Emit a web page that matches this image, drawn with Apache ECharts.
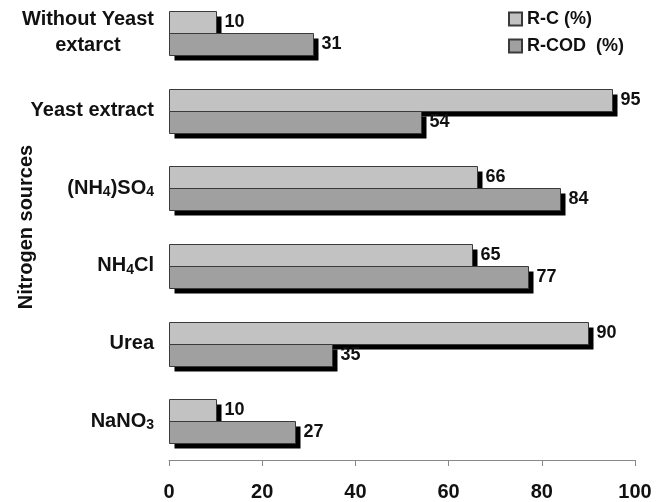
<!DOCTYPE html>
<html>
<head>
<meta charset="utf-8">
<script src="https://cdn.jsdelivr.net/npm/echarts@6/dist/echarts.min.js"></script>
<style>html,body{margin:0;padding:0;background:#fff}#c{width:668px;height:502px}</style>
</head>
<body>
<div id="c"></div>
<script>
const categories = ['Without Yeast extarct', 'Yeast extract', '(NH4)SO4', 'NH4Cl', 'Urea', 'NaNO3'];
const seriesNames = ['R-C (%)', 'R-COD  (%)'];
const rC = [10, 95, 66, 65, 90, 10];
const rCOD = [31, 54, 84, 77, 35, 27];
const xMin = 0, xMax = 100, xStep = 20;
const yTitle = 'Nitrogen sources';

const FONT = 'Liberation Sans, Arial, sans-serif';
const BAR_H = 22;
const SHADOW = 5;
const colors = ['#c2c2c2', '#a0a0a0'];

function catLabel(v) {
  if (v === 'Without Yeast extarct') return '{c|Without Yeast}\n{c|extarct}';
  return v.split(/(\d)/).filter(s => s.length).map(s => /\d/.test(s) ? '{s|' + s + '}' : '{b|' + s + '}').join('');
}

function makeRender(k) {
  return function (params, api) {
    const cat = api.value(0);
    const val = api.value(1);
    const p0 = api.coord([0, cat]);
    const p1 = api.coord([val, cat]);
    const x0 = Math.round(p0[0]) + 0.5;
    const x1 = Math.round(p1[0]) + 0.5;
    const top = Math.round(p0[1] - BAR_H + k * BAR_H) + 0.5;
    const w = x1 - x0;
    return {
      type: 'group',
      children: [
        {type: 'rect', shape: {x: x0 + SHADOW, y: top + SHADOW, width: w, height: BAR_H}, style: {fill: '#000'}},
        {type: 'rect', shape: {x: x0, y: top, width: w, height: BAR_H}, style: {fill: colors[k], stroke: '#3a3a3a', lineWidth: 1}},
        {type: 'text', x: x1 + SHADOW + 3, y: top + BAR_H / 2, style: {
          text: String(val), fontFamily: FONT, fontSize: 18, fontWeight: 'bold', fill: '#111',
          align: 'left', verticalAlign: 'middle'}}
      ]
    };
  };
}

const chart = echarts.init(document.getElementById('c'), null, {renderer: 'canvas'});
chart.setOption({
  animation: false,
  backgroundColor: '#fff',
  textStyle: {fontFamily: FONT},
  grid: {left: 169, right: 33, top: -6, bottom: 42, containLabel: false, outerBoundsMode: 'none'},
  legend: {
    orient: 'vertical',
    left: 508,
    top: 10,
    padding: 0,
    icon: 'rect',
    itemWidth: 13,
    itemHeight: 13,
    itemGap: 9,
    textStyle: {fontFamily: FONT, fontSize: 18, fontWeight: 'bold', color: '#111'},
    data: seriesNames
  },
  xAxis: {
    type: 'value',
    min: xMin,
    max: xMax,
    interval: xStep,
    axisLine: {show: true, lineStyle: {color: '#888', width: 1}},
    axisTick: {show: true, inside: false, length: 6, lineStyle: {color: '#888'}},
    splitLine: {show: false},
    axisLabel: {fontFamily: FONT, fontSize: 20, fontWeight: 'bold', color: '#111', margin: 22}
  },
  yAxis: {
    type: 'category',
    data: categories,
    inverse: true,
    name: yTitle,
    nameLocation: 'middle',
    nameGap: 133,
    nameMoveOverlap: false,
    nameTextStyle: {fontFamily: FONT, fontSize: 20, fontWeight: 'bold', color: '#111'},
    axisLine: {show: false},
    axisTick: {show: false},
    axisLabel: {
      margin: 15,
      formatter: catLabel,
      rich: {
        c: {fontFamily: FONT, fontSize: 20, fontWeight: 'bold', color: '#111', align: 'center', lineHeight: 26},
        b: {fontFamily: FONT, fontSize: 20, fontWeight: 'bold', color: '#111', lineHeight: 22},
        s: {fontFamily: FONT, fontSize: 14, fontWeight: 'bold', color: '#111', lineHeight: 10, verticalAlign: 'bottom'}
      }
    }
  },
  series: [
    {name: seriesNames[0], type: 'custom', renderItem: makeRender(0), encode: {y: 0, x: 1},
     itemStyle: {color: colors[0], borderColor: '#3a3a3a', borderWidth: 1},
     data: categories.map((c, i) => [i, rC[i]]), z: 2},
    {name: seriesNames[1], type: 'custom', renderItem: makeRender(1), encode: {y: 0, x: 1},
     itemStyle: {color: colors[1], borderColor: '#3a3a3a', borderWidth: 1},
     data: categories.map((c, i) => [i, rCOD[i]]), z: 3}
  ]
});
</script>
</body>
</html>
